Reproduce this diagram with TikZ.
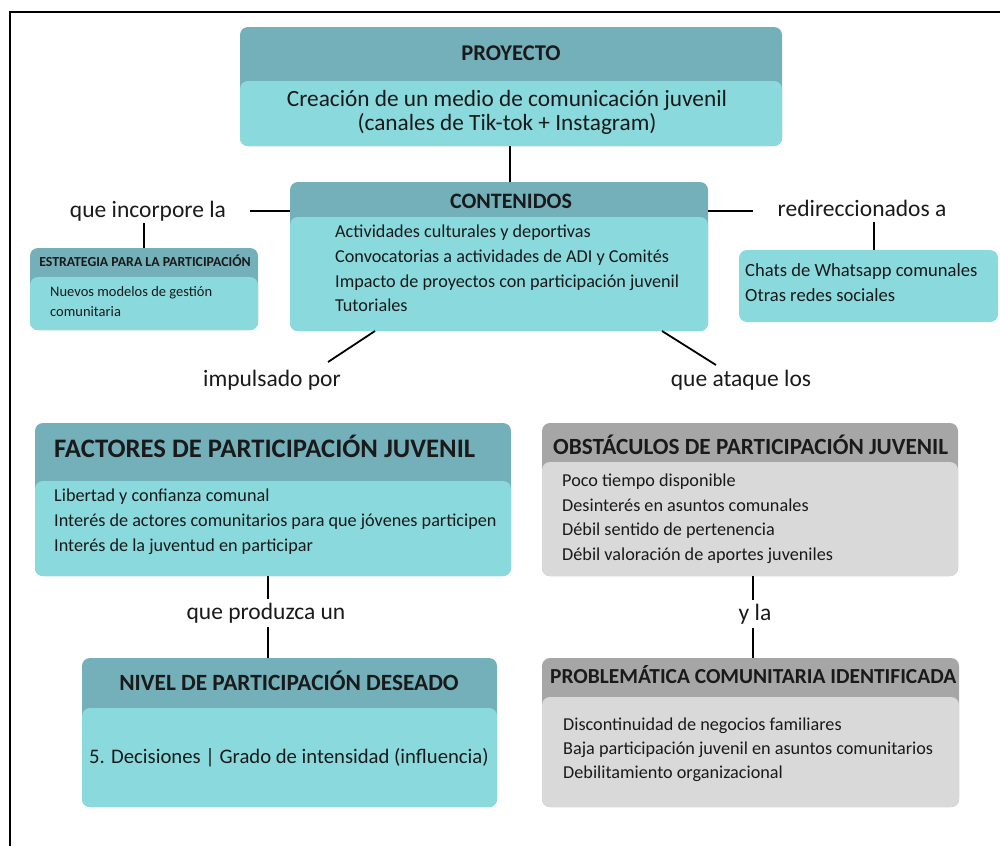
\documentclass[tikz,border=0pt]{standalone}
\usepackage{fontspec}
\setmainfont{Carlito}
\definecolor{tdark}{HTML}{73B0BA}
\definecolor{tlight}{HTML}{8AD9DD}
\definecolor{gdark}{HTML}{A6A6A6}
\definecolor{glight}{HTML}{D9D9D9}
\definecolor{ink}{HTML}{1A1A1A}
\newcommand{\fs}[1]{\fontsize{#1}{#1}\selectfont}
\begin{document}
\begin{tikzpicture}[x=1pt,y=-1pt,
  boxbase/.style={rounded corners=8pt, inner sep=0pt, outer sep=0pt, anchor=north west, draw=none},
  conn/.style={line width=1.8pt, black},
  txt/.style={inner sep=0pt, text=ink},
  lbl/.style={txt, font=\fs{23.5}, text height=17pt, text depth=5pt, outer sep=3pt},
  item/.style={txt, anchor=west, font=\fs{18.2}, text height=13pt, text depth=4pt},
  sitem/.style={txt, anchor=west, font=\fs{14.5}, text height=10.5pt, text depth=3pt},
  ttl/.style={txt, font=\bfseries\fs{#1}, text height=0.64*#1pt, text depth=0pt}]
\useasboundingbox (0,0) rectangle (1000,846);
% frame
\coordinate (frTL) at (10,12);
\coordinate (frBL) at (10,846);
\coordinate (frTR) at (1000,12);
\draw[line width=2pt] (frBL) -- (frTL) -- (frTR);

% PROYECTO
\node[boxbase, fill=tdark, minimum width=542pt, minimum height=119pt] (proy) at (240,27) {};
\node[boxbase, fill=tlight, minimum width=542pt, minimum height=65pt] (proyb) at (240,81) {};
\node[ttl=22.5] (proyt) at (511,53) {PROYECTO};
\node[lbl, font=\fs{23.3}] (proyx) at (507,100) {Creación de un medio de comunicación juvenil};
\node[lbl, font=\fs{23.3}] (proyy) at (507,124) {(canales de Tik-tok + Instagram)};

% CONTENIDOS
\node[boxbase, fill=tdark, minimum width=418pt, minimum height=149pt] (cont) at (290,182) {};
\node[boxbase, fill=tlight, minimum width=418pt, minimum height=114pt] (contb) at (290,217) {};
\node[ttl=22] (contt) at (511,201) {CONTENIDOS};
\node[item] (c1) at (335,233) {Actividades culturales y deportivas};
\node[item] (c2) at (335,258) {Convocatorias a actividades de ADI y Comités};
\node[item] (c3) at (335,283) {Impacto de proyectos con participación juvenil};
\node[item] (c4) at (335,307) {Tutoriales};
\draw[conn] (proyb.south -| 510,0) -- (cont.north -| 510,0);

% ESTRATEGIA
\node[lbl] (inc) at (148,211) {que incorpore la};
\coordinate (incR) at (250,211);
\draw[conn] (incR) -- (incR -| cont.west);
\node[boxbase, fill=tdark, minimum width=228pt, minimum height=82pt] (estr) at (30,248) {};
\node[boxbase, fill=tlight, minimum width=228pt, minimum height=53pt] (estrb) at (30,277) {};
\node[ttl=13.8] (estrt) at (145,262) {ESTRATEGIA PARA LA PARTICIPACIÓN};
\node[sitem] (e1) at (50,293) {Nuevos modelos de gestión};
\node[sitem] (e2) at (50,313) {comunitaria};
\draw[conn] (estr.north |- 0,223) -- (estr.north);

% REDES
\node[lbl] (red) at (862,210) {redireccionados a};
\coordinate (redL) at (753,211);
\draw[conn] (cont.east |- redL) -- (redL);
\node[boxbase, fill=tlight, minimum width=259pt, minimum height=72pt] (wa) at (739,250) {};
\node[item, font=\fs{18.6}] (w1) at (745,272) {Chats de Whatsapp comunales};
\node[item, font=\fs{18.6}] (w2) at (745,297) {Otras redes sociales};
\coordinate (waTop) at (874,250);
\draw[conn] (waTop |- 0,222) -- (waTop);

% diagonals
\node[lbl] (imp) at (272,380) {impulsado por};
\node[lbl] (ata) at (741,380) {que ataque los};
\coordinate (impA) at (375,331);
\coordinate (impB) at (328,362);
\coordinate (ataA) at (662,331);
\coordinate (ataB) at (716,365);
\draw[conn] (impA) -- (impB);
\draw[conn] (ataA) -- (ataB);

% FACTORES
\node[boxbase, fill=tdark, minimum width=476pt, minimum height=153pt] (fac) at (35,423) {};
\node[boxbase, fill=tlight, minimum width=476pt, minimum height=95pt] (facb) at (35,481) {};
\node[ttl=26.7, anchor=west] (fact) at (54,449) {FACTORES DE PARTICIPACIÓN JUVENIL};
\node[item] (f1) at (54,497) {Libertad y confianza comunal};
\node[item] (f2) at (54,522) {Interés de actores comunitarios para que jóvenes participen};
\node[item] (f3) at (54,547) {Interés de la juventud en participar};

% OBSTACULOS
\node[boxbase, fill=gdark, minimum width=416pt, minimum height=153pt] (obs) at (542,423) {};
\node[boxbase, fill=glight, minimum width=416pt, minimum height=114pt] (obsb) at (542,462) {};
\node[ttl=23.2, anchor=west] (obst) at (553,447) {OBSTÁCULOS DE PARTICIPACIÓN JUVENIL};
\node[item] (o1) at (562,482) {Poco tiempo disponible};
\node[item] (o2) at (562,507) {Desinterés en asuntos comunales};
\node[item] (o3) at (562,531) {Débil sentido de pertenencia};
\node[item] (o4) at (562,556) {Débil valoración de aportes juveniles};

% NIVEL
\node[lbl] (prod) at (266,613) {que produzca un};
\node[boxbase, fill=tdark, minimum width=415pt, minimum height=149pt] (niv) at (82,658) {};
\node[boxbase, fill=tlight, minimum width=415pt, minimum height=99pt] (nivb) at (82,708) {};
\node[ttl=23.3] (nivt) at (289,683) {NIVEL DE PARTICIPACIÓN DESEADO};
\node[lbl, font=\fs{20.7}, text height=15pt, text depth=4.5pt] (nivx) at (289,758) {5. Decisiones | Grado de intensidad (influencia)};
\coordinate (nivL) at (268,0);
\draw[conn] (fac.south -| nivL) -- (prod.north -| nivL);
\draw[conn] (prod.south -| nivL) -- (niv.north -| nivL);

% PROBLEMATICA
\node[lbl] (yla) at (755,614) {y la};
\node[boxbase, fill=gdark, minimum width=417pt, minimum height=149pt] (prob) at (542,658) {};
\node[boxbase, fill=glight, minimum width=417pt, minimum height=110pt] (probb) at (542,697) {};
\node[ttl=21.4, anchor=west] (probt) at (550,677) {PROBLEMÁTICA COMUNITARIA IDENTIFICADA};
\node[item] (p1) at (563,726) {Discontinuidad de negocios familiares};
\node[item] (p2) at (563,750) {Baja participación juvenil en asuntos comunitarios};
\node[item] (p3) at (563,774) {Debilitamiento organizacional};
\coordinate (ylaL) at (753,0);
\draw[conn] (obs.south -| ylaL) -- (yla.north -| ylaL);
\draw[conn] (yla.south -| ylaL) -- (prob.north -| ylaL);
\end{tikzpicture}
\end{document}
